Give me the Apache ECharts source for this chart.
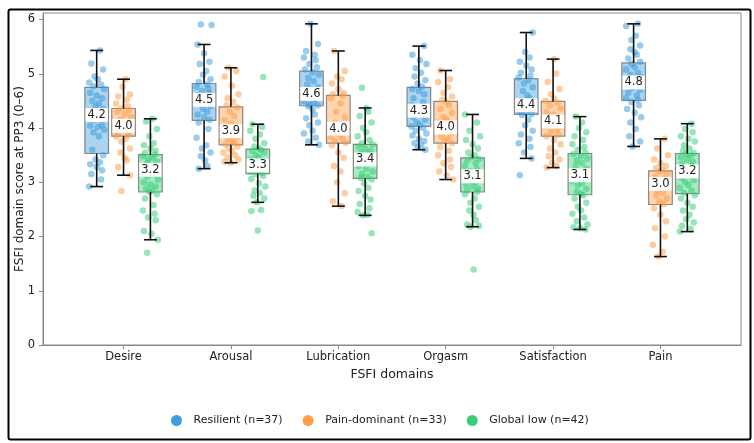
<!DOCTYPE html>
<html>
<head>
<meta charset="utf-8">
<script src="https://cdn.jsdelivr.net/npm/echarts@6/dist/echarts.min.js"></script>
<style>
html,body{margin:0;padding:0;background:#fff;}
#chart{width:754px;height:443px;}
</style>
</head>
<body>
<div id="chart"></div>
<script>
// ---- data ----
const categories = ['Desire', 'Arousal', 'Lubrication', 'Orgasm', 'Satisfaction', 'Pain'];
const groupNames = ['Resilient (n=37)', 'Pain-dominant (n=33)', 'Global low (n=42)'];
const yTickValues = [0, 1, 2, 3, 4, 5, 6];

// box stats per domain: [lower whisker, Q1, median, Q3, upper whisker]
const resilientBox = [[2.92,3.53,4.24,4.75,5.43],[3.25,4.14,4.52,4.82,5.54],[3.69,4.41,4.63,5.05,5.92],[3.60,4.03,4.32,4.75,5.51],[3.44,4.25,4.42,4.91,5.76],[3.66,4.51,4.84,5.20,5.92]];
const painBox      = [[3.13,3.85,4.04,4.36,4.90],[3.36,3.69,3.94,4.39,5.11],[2.56,3.72,3.99,4.60,5.42],[3.05,3.72,4.01,4.49,5.06],[3.27,3.85,4.12,4.49,5.27],[1.63,2.59,2.97,3.21,3.80]];
const globalBox    = [[1.94,2.82,3.23,3.51,4.17],[2.63,3.16,3.31,3.61,4.07],[2.39,3.07,3.42,3.70,4.37],[2.18,2.82,3.11,3.45,4.25],[2.13,2.77,3.13,3.53,4.21],[2.09,2.79,3.20,3.53,4.08]];

// individual scores per domain
const resilientPoints = [
  [5.43,5.19,5.08,4.95,4.90,4.84,4.80,4.77,4.72,4.65,4.60,4.55,4.50,4.45,4.40,4.35,4.30,4.26,4.24,4.20,4.15,4.05,4.04,4.02,3.97,3.92,3.85,3.60,3.50,3.42,3.37,3.33,3.28,3.22,3.15,3.05,2.92],
  [5.91,5.90,5.54,5.38,5.22,5.18,5.05,4.98,4.90,4.85,4.80,4.76,4.72,4.68,4.64,4.60,4.56,4.53,4.52,4.50,4.45,4.40,4.35,4.30,4.25,4.20,4.15,4.10,3.98,3.82,3.68,3.62,3.55,3.48,3.40,3.30,3.25],
  [5.92,5.55,5.42,5.35,5.30,5.25,5.18,5.12,5.08,5.03,4.98,4.92,4.86,4.80,4.75,4.72,4.70,4.68,4.63,4.60,4.58,4.54,4.50,4.47,4.44,4.42,4.40,4.34,4.25,4.18,4.10,4.05,3.95,3.90,3.82,3.75,3.69],
  [5.51,5.35,5.25,5.18,5.10,5.02,4.95,4.88,4.82,4.76,4.72,4.68,4.62,4.55,4.48,4.42,4.38,4.34,4.32,4.30,4.27,4.24,4.20,4.15,4.10,4.06,4.03,4.00,3.95,3.90,3.86,3.80,3.76,3.72,3.68,3.64,3.60],
  [5.76,5.40,5.30,5.22,5.15,5.08,5.02,4.97,4.93,4.88,4.82,4.75,4.68,4.60,4.55,4.50,4.46,4.44,4.42,4.40,4.38,4.36,4.34,4.31,4.28,4.26,4.24,4.15,4.05,3.95,3.88,3.80,3.72,3.65,3.55,3.44,3.13],
  [5.92,5.88,5.70,5.62,5.52,5.45,5.40,5.35,5.28,5.22,5.18,5.12,5.08,5.02,4.98,4.94,4.90,4.86,4.84,4.82,4.78,4.74,4.70,4.65,4.60,4.55,4.52,4.48,4.42,4.35,4.28,4.20,4.10,3.98,3.85,3.75,3.66]
];
const painPoints = [
  [4.90,4.76,4.62,4.58,4.52,4.45,4.40,4.36,4.33,4.30,4.25,4.20,4.15,4.10,4.07,4.05,4.04,4.02,4.00,3.97,3.93,3.90,3.87,3.85,3.80,3.75,3.62,3.55,3.45,3.40,3.28,3.13,2.84],
  [5.11,5.05,4.95,4.78,4.62,4.55,4.48,4.42,4.38,4.30,4.22,4.15,4.08,4.02,3.99,3.96,3.94,3.92,3.88,3.84,3.80,3.76,3.73,3.70,3.66,3.62,3.58,3.55,3.50,3.46,3.42,3.38,3.36],
  [5.42,5.05,4.95,4.90,4.82,4.72,4.65,4.62,4.60,4.55,4.45,4.30,4.20,4.10,4.05,4.01,3.99,3.96,3.92,3.88,3.84,3.80,3.76,3.73,3.68,3.55,3.45,3.30,3.20,3.00,2.80,2.65,2.56],
  [5.06,4.90,4.85,4.75,4.65,4.58,4.52,4.48,4.42,4.35,4.28,4.20,4.15,4.10,4.05,4.03,4.01,3.98,3.95,3.90,3.85,3.80,3.76,3.72,3.65,3.58,3.50,3.42,3.35,3.28,3.20,3.12,3.05],
  [5.27,5.00,4.85,4.72,4.62,4.55,4.50,4.47,4.42,4.36,4.30,4.25,4.20,4.17,4.15,4.13,4.12,4.10,4.07,4.03,3.98,3.93,3.88,3.85,3.78,3.70,3.62,3.55,3.48,3.42,3.36,3.30,3.27],
  [3.80,3.62,3.50,3.42,3.35,3.30,3.26,3.22,3.20,3.15,3.10,3.06,3.03,3.00,2.99,2.98,2.97,2.94,2.90,2.85,2.80,2.75,2.70,2.64,2.60,2.52,2.40,2.28,2.15,2.00,1.85,1.72,1.63]
];
const globalPoints = [
  [4.17,4.12,3.98,3.85,3.72,3.68,3.62,3.58,3.54,3.51,3.48,3.45,3.42,3.38,3.35,3.31,3.28,3.26,3.24,3.23,3.23,3.20,3.15,3.10,3.05,3.00,2.96,2.92,2.88,2.85,2.82,2.78,2.70,2.58,2.48,2.42,2.35,2.30,2.10,2.05,1.94,1.70],
  [4.94,4.07,4.02,3.95,3.88,3.80,3.72,3.66,3.62,3.60,3.58,3.55,3.50,3.46,3.42,3.38,3.36,3.34,3.33,3.32,3.31,3.31,3.29,3.27,3.25,3.23,3.21,3.19,3.17,3.15,3.12,3.06,2.98,2.92,2.85,2.80,2.75,2.70,2.63,2.49,2.47,2.11],
  [4.74,4.37,4.30,4.22,4.10,4.00,3.92,3.85,3.78,3.72,3.70,3.66,3.62,3.58,3.55,3.52,3.49,3.46,3.44,3.43,3.42,3.41,3.38,3.35,3.30,3.25,3.20,3.15,3.10,3.08,3.05,2.98,2.90,2.84,2.75,2.68,2.60,2.52,2.45,2.40,2.39,2.06],
  [4.25,4.10,3.95,3.85,3.78,3.70,3.62,3.55,3.50,3.46,3.43,3.40,3.35,3.30,3.25,3.20,3.17,3.15,3.13,3.12,3.11,3.10,3.08,3.06,3.03,3.00,2.96,2.92,2.88,2.85,2.82,2.78,2.70,2.62,2.55,2.48,2.40,2.30,2.22,2.20,2.18,1.39],
  [4.21,4.10,4.00,3.92,3.85,3.78,3.70,3.65,3.60,3.55,3.52,3.48,3.44,3.40,3.35,3.30,3.25,3.20,3.17,3.15,3.14,3.12,3.10,3.06,3.02,2.98,2.94,2.88,2.82,2.79,2.76,2.70,2.62,2.55,2.48,2.42,2.35,2.28,2.22,2.17,2.15,2.13],
  [4.08,3.98,3.92,3.85,3.80,3.75,3.68,3.62,3.58,3.54,3.52,3.50,3.46,3.42,3.38,3.34,3.30,3.26,3.23,3.21,3.20,3.19,3.16,3.12,3.08,3.04,3.00,2.95,2.90,2.85,2.80,2.76,2.70,2.62,2.55,2.48,2.40,2.32,2.26,2.20,2.14,2.09]
];
// fixed horizontal jitter (category units)
const jitter = [0.03,-0.05,0.06,-0.02,0.01,-0.07,0.04,-0.03,0.07,-0.06,0.00,0.05,-0.04,0.02,-0.01,0.06,-0.05,0.03,-0.07,0.04,-0.02,0.05,-0.06,0.01,0.07,-0.03,0.02,-0.04,0.06,-0.01,0.03,-0.06,0.00,0.05,-0.05,0.04,-0.07,0.02,-0.02,0.06,-0.03,0.01];

// ---- styling ----
const colors = ['#3498db', '#ff9a40', '#2ecc71'];
const groupOffsets = [-0.25, 0, 0.25];
const boxWidth = 0.22, capWidth = 0.12;
const FONT = 'DejaVu Sans';

const boxes = [resilientBox, painBox, globalBox];
const points = [resilientPoints, painPoints, globalPoints];

const series = [];
boxes.forEach((bx, g) => {
  series.push({
    type: 'custom',
    name: 'box' + g,
    z: 2,
    silent: true,
    data: bx.map((s, d) => [d, s[0], s[1], s[2], s[3], s[4]]),
    renderItem: function (params, api) {
      const x = api.value(0) + groupOffsets[g];
      const q1 = api.coord([x, api.value(2)]);
      const md = api.coord([x, api.value(3)]);
      const q3 = api.coord([x, api.value(4)]);
      const hb = api.size([boxWidth, 0])[0] / 2;
      const cx = q1[0];
      return {
        type: 'group',
        children: [
          {type: 'rect', shape: {x: cx - hb, y: q3[1], width: 2 * hb, height: q1[1] - q3[1]},
           style: {fill: echarts.color.modifyAlpha(colors[g], 0.42), stroke: 'rgba(110,110,110,0.8)', lineWidth: 1.2}},
          {type: 'line', shape: {x1: cx - hb, y1: md[1], x2: cx + hb, y2: md[1]}, style: {stroke: '#ff7f0e', lineWidth: 1.5}}
        ]
      };
    }
  });
});
points.forEach((pts, g) => {
  const data = [];
  pts.forEach((vals, d) => {
    vals.forEach((v, i) => {
      data.push([d + groupOffsets[g] + jitter[(i + 7 * d + 13 * g) % jitter.length], v]);
    });
  });
  series.push({
    type: 'scatter',
    name: groupNames[g],
    z: 3,
    symbolSize: 6.5,
    itemStyle: {color: colors[g], opacity: 0.5},
    emphasis: {disabled: true},
    data: data
  });
});
// whiskers on top of points
boxes.forEach((bx, g) => {
  series.push({
    type: 'custom',
    name: 'whisk' + g,
    z: 4,
    silent: true,
    data: bx.map((s, d) => [d, s[0], s[1], s[2], s[3], s[4]]),
    renderItem: function (params, api) {
      const x = api.value(0) + groupOffsets[g];
      const lo = api.coord([x, api.value(1)]);
      const q1 = api.coord([x, api.value(2)]);
      const q3 = api.coord([x, api.value(4)]);
      const hi = api.coord([x, api.value(5)]);
      const hc = api.size([capWidth, 0])[0] / 2;
      const cx = lo[0];
      const blk = {stroke: '#111', lineWidth: 1.6};
      return {
        type: 'group',
        children: [
          {type: 'line', shape: {x1: cx, y1: q1[1], x2: cx, y2: lo[1]}, style: blk},
          {type: 'line', shape: {x1: cx, y1: q3[1], x2: cx, y2: hi[1]}, style: blk},
          {type: 'line', shape: {x1: cx - hc, y1: lo[1], x2: cx + hc, y2: lo[1]}, style: blk},
          {type: 'line', shape: {x1: cx - hc, y1: hi[1], x2: cx + hc, y2: hi[1]}, style: blk}
        ]
      };
    }
  });
});
// median labels
boxes.forEach((bx, g) => {
  series.push({
    type: 'custom',
    name: 'med' + g,
    z: 6,
    silent: true,
    data: bx.map((s, d) => [d, s[2]]),
    renderItem: function (params, api) {
      const p = api.coord([api.value(0) + groupOffsets[g], api.value(1)]);
      return {
        type: 'text',
        x: p[0], y: p[1],
        style: {
          text: api.value(1).toFixed(1),
          fill: '#222',
          font: '11.5px "DejaVu Sans"',
          align: 'center', verticalAlign: 'middle',
          backgroundColor: '#ffffff',
          padding: [1, 2],
          opacity: 1
        }
      };
    }
  });
});

const chart = echarts.init(document.getElementById('chart'), null, {renderer: 'canvas'});
chart.setOption({
  animation: false,
  backgroundColor: '#fff',
  textStyle: {fontFamily: FONT},
  grid: {left: 43, right: 13, top: 13, bottom: 98, show: true, borderColor: '#888', borderWidth: 1, backgroundColor: 'transparent'},
  legend: {
    data: groupNames.map((n, g) => ({name: n, icon: 'circle', itemStyle: {color: colors[g], opacity: 0.95}})),
    left: 166, top: 410,
    itemWidth: 24, itemHeight: 11, itemGap: 20,
    textStyle: {fontFamily: FONT, fontSize: 11, color: '#222'},
    selectedMode: false
  },
  xAxis: {
    type: 'value', min: -0.75, max: 5.75,
    name: 'FSFI domains', nameLocation: 'middle', nameGap: 20,
    nameTextStyle: {fontFamily: FONT, fontSize: 12.5, color: '#222'},
    axisLine: {show: true, onZero: false, lineStyle: {color: '#888'}},
    axisTick: {show: true, length: 4, lineStyle: {color: '#888'}, customValues: [0, 1, 2, 3, 4, 5]},
    axisLabel: {customValues: [0, 1, 2, 3, 4, 5], formatter: v => categories[Math.round(v)], margin: 6,
                fontFamily: FONT, fontSize: 11.5, color: '#222'},
    splitLine: {show: false}
  },
  yAxis: {
    type: 'value', min: 0, max: 6.12,
    name: 'FSFI domain score at PP3 (0–6)', nameLocation: 'middle', nameGap: 17,
    nameMoveOverlap: false,
    nameTextStyle: {fontFamily: FONT, fontSize: 12, color: '#222'},
    axisLine: {show: true, onZero: false, lineStyle: {color: '#888'}},
    axisTick: {show: true, length: 4, lineStyle: {color: '#888'}, customValues: yTickValues},
    axisLabel: {customValues: yTickValues, formatter: v => String(Math.round(v)), margin: 8,
                fontFamily: FONT, fontSize: 11.5, color: '#222'},
    splitLine: {show: false}
  },
  graphic: [{
    type: 'rect', left: 6, top: 7, z: 100, silent: true,
    shape: {width: 742, height: 430, r: 2},
    style: {fill: 'none', stroke: '#000', lineWidth: 2}
  }],
  series: series
});
</script>
</body>
</html>
